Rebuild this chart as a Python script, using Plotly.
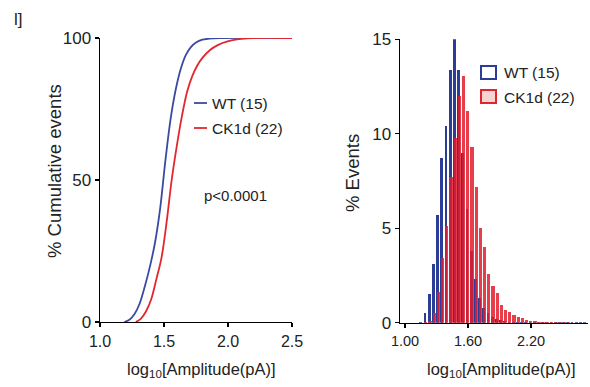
import plotly.graph_objects as go

# ---------------- data ----------------
# Left panel: cumulative distributions
wt_cdf_x = [1.19, 1.23, 1.27, 1.31, 1.35, 1.39, 1.43, 1.47, 1.51, 1.55, 1.59, 1.63, 1.67, 1.71,
            1.75, 1.80, 1.88, 1.95, 2.5]
wt_cdf_y = [0, 0.8, 2.8, 6.5, 12.5, 19.5, 28, 40, 56.5, 71, 81.5, 89, 94, 96.8,
            98.4, 99.4, 99.9, 100, 100]
ck_cdf_x = [1.28, 1.32, 1.36, 1.40, 1.44, 1.48, 1.52, 1.56, 1.60, 1.64, 1.68, 1.72, 1.76, 1.80,
            1.86, 1.92, 1.99, 2.07, 2.15, 2.2, 2.5]
ck_cdf_y = [0, 1.2, 3.8, 8, 15, 22.5, 35, 50, 62, 72.5, 81, 86.5, 90.3, 93,
            95.8, 97.5, 98.7, 99.5, 99.9, 100, 100]

# Right panel: histogram, bin centres (bin width 0.04) and % events
bin_centres = [1.15, 1.19, 1.23, 1.27, 1.31, 1.35, 1.39, 1.43, 1.47, 1.51, 1.55, 1.59, 1.63, 1.67,
               1.71, 1.75, 1.79, 1.83, 1.87, 1.91, 1.95, 1.99, 2.03, 2.07, 2.11, 2.15, 2.19, 2.23,
               2.27, 2.31, 2.35, 2.39, 2.43, 2.47, 2.51, 2.55, 2.59, 2.63, 2.67, 2.71]
wt_pct = [0.05, 0.53, 1.5, 3.1, 5.7, 8.7, 10.4, 13.4, 15.0, 13.4, 9.0, 6.0, 3.8, 2.3,
          1.3, 0.8, 0.5, 0.3, 0.2, 0.12, 0.08, 0.06, 0.05, 0.04, 0.03, 0.03, 0.04, 0.05,
          0.05, 0.05, 0.03, 0.05, 0.02, 0.03, 0.02, 0.05, 0.02, 0.03, 0.05, 0.02]
ck_pct = [0.0, 0.02, 0.1, 0.5, 1.6, 3.4, 5.1, 7.7, 9.8, 12.0, 13.05, 11.2, 9.3, 7.2,
          5.0, 4.0, 2.6, 1.95, 1.55, 0.93, 0.67, 0.58, 0.4, 0.3, 0.23, 0.14, 0.1, 0.08,
          0.06, 0.06, 0.05, 0.04, 0.03, 0.02, 0.02, 0.02, 0.01, 0.01, 0.01, 0.0]

left_xticks = [1.0, 1.5, 2.0, 2.5]
left_xticklabels = ["1.0", "1.5", "2.0", "2.5"]
left_yticks = [0, 50, 100]
right_xticks = [1.00, 1.60, 2.20]
right_xticklabels = ["1.00", "1.60", "2.20"]
right_yticks = [0, 5, 10, 15]

series_names = ["WT (15)", "CK1d (22)"]

BLUE_LINE = "#3a4aa2"
RED_LINE = "#e3262d"
BLUE_BAR = "#2c3d97"
RED_BAR = "rgba(226,28,44,0.85)"
FONT = "Liberation Sans, Arial, sans-serif"

W, H = 590, 387


def px(x):
    return x / W


def py(y):
    return 1 - y / H


fig = go.Figure()

fig.add_trace(go.Scatter(x=wt_cdf_x, y=wt_cdf_y, mode="lines", name=series_names[0],
                         line=dict(color=BLUE_LINE, width=1.8, shape="spline", smoothing=0.9),
                         cliponaxis=False, xaxis="x", yaxis="y", showlegend=False))
fig.add_trace(go.Scatter(x=ck_cdf_x, y=ck_cdf_y, mode="lines", name=series_names[1],
                         line=dict(color=RED_LINE, width=1.8, shape="spline", smoothing=0.9),
                         cliponaxis=False, xaxis="x", yaxis="y", showlegend=False))

fig.add_trace(go.Bar(x=bin_centres, y=wt_pct, name=series_names[0], width=0.026, offset=-0.013,
                     marker=dict(color=BLUE_BAR, line=dict(width=0)),
                     xaxis="x2", yaxis="y2", showlegend=False))
fig.add_trace(go.Bar(x=bin_centres, y=ck_pct, name=series_names[1], width=0.03, offset=-0.007,
                     marker=dict(color=RED_BAR, line=dict(width=0)),
                     xaxis="x2", yaxis="y2", showlegend=False))

axis_common = dict(showline=True, linecolor="black", linewidth=1.4, ticks="outside",
                   ticklen=4, tickwidth=1.4, tickcolor="black", showgrid=False,
                   zeroline=False, automargin=False)

fig.update_layout(
    width=W, height=H,
    margin=dict(l=0, r=0, t=0, b=0),
    paper_bgcolor="white", plot_bgcolor="white",
    font=dict(family=FONT, color="#222"),
    barmode="overlay",
    bargap=0,
    hovermode=False,
    xaxis=dict(domain=[px(100), px(292)], range=[1.0, 2.5], tickvals=left_xticks,
               ticktext=left_xticklabels, tickfont=dict(size=16), anchor="y", **axis_common),
    yaxis=dict(domain=[py(322), py(38)], range=[0, 100], tickvals=left_yticks,
               tickfont=dict(size=17), anchor="x", **axis_common),
    xaxis2=dict(domain=[px(400), px(588)], range=[0.952, 2.743], tickvals=right_xticks,
                ticktext=right_xticklabels, tickfont=dict(size=14.5), anchor="y2", **axis_common),
    yaxis2=dict(domain=[py(322.7), py(39.3)], range=[0, 15], tickvals=right_yticks,
                tickfont=dict(size=17), anchor="x2", **axis_common),
)

ann = []
# panel label
ann.append(dict(x=px(12), y=py(19), xref="paper", yref="paper", text="l]", showarrow=False,
                xanchor="left", yanchor="middle", font=dict(size=17, color="#222")))
# axis titles
ann.append(dict(x=px(54), y=py(171), xref="paper", yref="paper", text="% Cumulative events",
                showarrow=False, textangle=-90, xanchor="center", yanchor="middle",
                font=dict(size=18.5, color="#222")))
ann.append(dict(x=px(201), y=py(370), xref="paper", yref="paper",
                text="log<sub>10</sub>[Amplitude(pA)]", showarrow=False,
                xanchor="center", yanchor="middle", font=dict(size=16.5, color="#222")))
ann.append(dict(x=px(352), y=py(173), xref="paper", yref="paper", text="% Events",
                showarrow=False, textangle=-90, xanchor="center", yanchor="middle",
                font=dict(size=18.5, color="#222")))
ann.append(dict(x=px(501), y=py(370), xref="paper", yref="paper",
                text="log<sub>10</sub>[Amplitude(pA)]", showarrow=False,
                xanchor="center", yanchor="middle", font=dict(size=16.5, color="#222")))
# p value
ann.append(dict(x=px(235), y=py(195), xref="paper", yref="paper", text="p<0.0001",
                showarrow=False, xanchor="center", yanchor="middle",
                font=dict(size=15, color="#222")))
# left legend text
ann.append(dict(x=px(210), y=py(103), xref="paper", yref="paper", text=series_names[0],
                showarrow=False, xanchor="left", yanchor="middle", font=dict(size=15.5, color="#222")))
ann.append(dict(x=px(210), y=py(128), xref="paper", yref="paper", text=series_names[1],
                showarrow=False, xanchor="left", yanchor="middle", font=dict(size=15.5, color="#222")))
# right legend text
ann.append(dict(x=px(502), y=py(72), xref="paper", yref="paper", text=series_names[0],
                showarrow=False, xanchor="left", yanchor="middle", font=dict(size=15.5, color="#222")))
ann.append(dict(x=px(502), y=py(97), xref="paper", yref="paper", text=series_names[1],
                showarrow=False, xanchor="left", yanchor="middle", font=dict(size=15.5, color="#222")))
fig.update_layout(annotations=ann)

shapes = []
# left legend line glyphs
shapes.append(dict(type="line", xref="paper", yref="paper", x0=px(194), x1=px(207), y0=py(103), y1=py(103),
                   line=dict(color=BLUE_LINE, width=1.8)))
shapes.append(dict(type="line", xref="paper", yref="paper", x0=px(194), x1=px(207), y0=py(128), y1=py(128),
                   line=dict(color=RED_LINE, width=1.8)))
# right legend square glyphs
shapes.append(dict(type="rect", xref="paper", yref="paper", x0=px(481), x1=px(496), y0=py(79), y1=py(66),
                   line=dict(color=BLUE_BAR, width=2), fillcolor="white"))
shapes.append(dict(type="rect", xref="paper", yref="paper", x0=px(481), x1=px(496), y0=py(103), y1=py(90),
                   line=dict(color="#e0252e", width=2), fillcolor="#f7d4d4"))
fig.update_layout(shapes=shapes)

fig.write_html("out.html", config={"displayModeBar": False, "staticPlot": True},
               post_script="document.body.style.margin='0';document.body.style.overflow='hidden';")
